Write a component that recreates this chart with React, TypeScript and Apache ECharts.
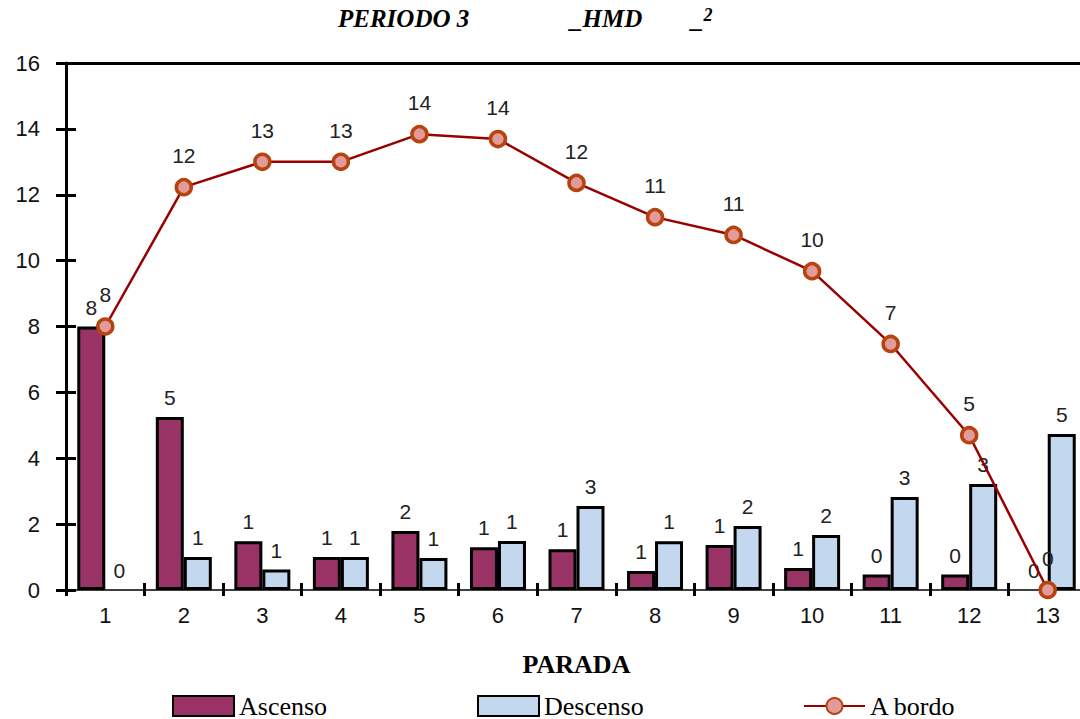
import React, { useEffect, useRef } from "react";
import * as echarts from "echarts";

const categories = ["1", "2", "3", "4", "5", "6", "7", "8", "9", "10", "11", "12", "13"];
const ascenso = [8, 5.25, 1.48, 1.0, 1.79, 1.3, 1.24, 0.58, 1.37, 0.67, 0.47, 0.47, 0];
const descenso = [0, 1.0, 0.62, 1.0, 0.97, 1.49, 2.55, 1.48, 1.94, 1.67, 2.82, 3.22, 4.74];
const aBordo = [8, 12.23, 13.0, 13.0, 13.84, 13.69, 12.36, 11.32, 10.78, 9.68, 7.47, 4.7, 0];
const yTicks = { min: 0, max: 16, interval: 2 };

const SANS = "'Liberation Sans', Arial, sans-serif";
const SERIF = "'Liberation Serif', 'Times New Roman', serif";

const barData = (vals: number[]) =>
  vals.map((v) => (v === 0 ? { value: v, itemStyle: { borderWidth: 0 } } : v));

export default function App() {
  const ref = useRef<HTMLDivElement>(null);

  useEffect(() => {
    if (!ref.current) return;
    const chart = echarts.init(ref.current, null, { renderer: "svg" });
    const fmt = (p: any) => String(Math.round(p.value));
    const legendBase = {
      top: 688,
      itemWidth: 61,
      itemHeight: 20,
      itemGap: 7,
      textStyle: { fontFamily: SERIF, fontSize: 26, color: "#000" },
      selectedMode: false,
    };
    const dataLabel = {
      show: true,
      position: "top",
      formatter: fmt,
      fontFamily: SANS,
      fontSize: 21,
      color: "#222",
    };
    chart.setOption({
      animation: false,
      backgroundColor: "#fff",
      grid: { left: 66, top: 63, width: 1021, height: 527, outerBoundsMode: "none", containLabel: false },
      graphic: [
        {
          type: "text",
          left: 338,
          top: 6,
          style: { text: "PERIODO 3", font: `italic bold 25px ${SERIF}`, fill: "#000" },
        },
        {
          type: "text",
          left: 570,
          top: 6,
          style: { text: "_HMD", font: `italic bold 25px ${SERIF}`, fill: "#000" },
        },
        {
          type: "text",
          left: 691,
          top: 6,
          style: {
            text: "{u|_}{s|2}",
            rich: {
              u: { font: `italic bold 25px ${SERIF}`, fill: "#000" },
              s: { font: `italic bold 18px ${SERIF}`, fill: "#000", verticalAlign: "top", padding: [0, 0, 6, 0] },
            },
          },
        },
      ],
      legend: [
        { ...legendBase, left: 167, data: [{ name: "Ascenso", icon: "rect" }] },
        { ...legendBase, left: 472, data: [{ name: "Descenso", icon: "rect" }] },
        { ...legendBase, left: 798, data: ["A bordo"] },
      ],
      xAxis: [
        {
          type: "category",
          data: categories,
          position: "bottom",
          name: "PARADA",
          nameLocation: "middle",
          nameGap: 61,
          nameTextStyle: { fontFamily: SERIF, fontSize: 26, fontWeight: "bold", color: "#000" },
          axisLine: { lineStyle: { color: "#000", width: 1.5 } },
          axisTick: { show: true, inside: false, length: 6, lineStyle: { color: "#000", width: 3 } },
          axisLabel: { fontFamily: SANS, fontSize: 22, color: "#111", margin: 14 },
          splitLine: { show: false },
        },
        {
          type: "category",
          data: categories,
          position: "bottom",
          axisLine: { show: false },
          axisTick: { show: true, inside: true, length: 7, lineStyle: { color: "#000", width: 3 } },
          axisLabel: { show: false },
          splitLine: { show: false },
        },
        {
          type: "category",
          data: categories,
          position: "top",
          axisLine: { show: true, lineStyle: { color: "#000", width: 3 } },
          axisTick: { show: false },
          axisLabel: { show: false },
          splitLine: { show: false },
        },
      ],
      yAxis: [
        {
          type: "value",
          ...yTicks,
          position: "left",
          axisLine: { show: true, lineStyle: { color: "#000", width: 3 } },
          axisTick: { show: true, inside: false, length: 10, lineStyle: { color: "#000", width: 3 } },
          axisLabel: { fontFamily: SANS, fontSize: 22, color: "#111", margin: 26 },
          splitLine: { show: false },
        },
        {
          type: "value",
          ...yTicks,
          position: "left",
          axisLine: { show: false },
          axisTick: { show: true, inside: true, length: 10, lineStyle: { color: "#000", width: 3 } },
          axisLabel: { show: false },
          splitLine: { show: false },
        },
      ],
      series: [
        {
          name: "Ascenso",
          type: "bar",
          data: barData(ascenso),
          barWidth: 28,
          barGap: "0%",
          itemStyle: { color: "#993366", borderColor: "#000", borderWidth: 3 },
          label: { ...dataLabel, distance: 9 },
        },
        {
          name: "Descenso",
          type: "bar",
          data: barData(descenso),
          barWidth: 28,
          barGap: "0%",
          itemStyle: { color: "#C3D7EF", borderColor: "#000", borderWidth: 3 },
          label: { ...dataLabel, distance: 9 },
        },
        {
          name: "A bordo",
          type: "line",
          data: aBordo,
          z: 5,
          symbol: "circle",
          symbolSize: 15,
          lineStyle: { color: "#990000", width: 2.5 },
          itemStyle: { color: "#E39A9A", borderColor: "#B5440F", borderWidth: 3.5 },
          label: { ...dataLabel, distance: 12 },
        },
      ],
    });
    return () => chart.dispose();
  }, []);

  return (
    <div
      ref={ref}
      style={{ position: "fixed", left: 0, top: 0, width: 1080, height: 719, background: "#fff" }}
    />
  );
}
